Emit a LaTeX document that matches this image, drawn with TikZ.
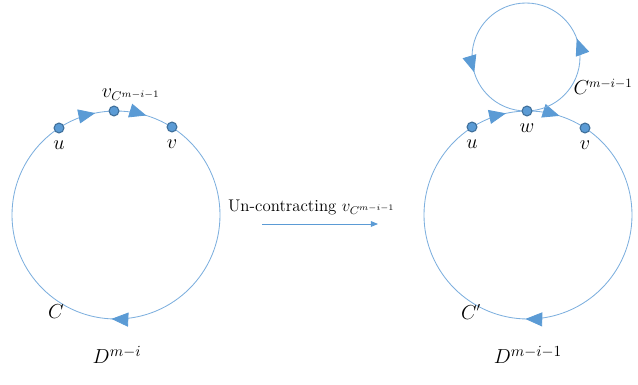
\documentclass[tikz,border=0pt]{standalone}
\usepackage{amsmath}
\usepackage{tikz}
\usetikzlibrary{positioning,arrows.meta,decorations.markings}
\definecolor{cycblue}{RGB}{91,155,213}
\definecolor{dotedge}{RGB}{65,113,156}
\definecolor{linblue}{RGB}{125,175,222}

\begin{document}
\begin{tikzpicture}[x=0.025cm, y=-0.025cm,
    font=\fontsize{13.5}{16}\selectfont,
    cyc/.style={draw=linblue, line width=0.6pt},
    dot/.style={circle, fill=cycblue, draw=dotedge, line width=0.8pt,
                inner sep=0pt, minimum size=7pt},
    tip/.style={postaction={decorate, decoration={markings,
                mark=at position #1 with {\arrow[cycblue]{Triangle[length=12pt,width=10pt]}}}}},
    flow/.style={-{Triangle[length=5pt,width=4pt]}, draw=cycblue, line width=0.6pt}]
    \useasboundingbox (0,0) rectangle (638,385);

    \draw[cyc, tip=0.718, tip=0.797, tip=0.257] (116,215) circle[radius=104];
    \node[dot] (u1) at (59,128)  {};
    \node[dot] (vc) at (114,111) {};
    \node[dot] (v1) at (172,127) {};
    \node[below=1.5pt of u1] {$u$};
    \node[below=1.5pt of v1] {$v$};
    \node at (131,95) {$v_{C^{m-i-1}}$};
    \node at (56,312) {$C$};
    \node[font=\fontsize{15.5}{18}\selectfont] at (117,355) {$D^{m-i}$};

    \coordinate (s) at (262,224);
    \coordinate (t) at (378,224);
    \draw[flow] (s) -- node[above=3pt, xshift=-6pt, font=\fontsize{12}{14}\selectfont]
      {Un-contracting $v_{C^{m-i-1}}$} (t);

    \draw[cyc, tip=0.716, tip=0.799, tip=0.254] (528,215) circle[radius=104];
    \draw[cyc, tip=0.056, tip=0.546] (580,57) arc[start angle=0, end angle=-360, radius=54];
    \node[dot] (u2) at (472,127) {};
    \node[dot] (w)  at (527,111) {};
    \node[dot] (v2) at (585,128) {};
    \node[below=1.5pt of u2] {$u$};
    \node[below=1.5pt of w]  {$w$};
    \node[below=1.5pt of v2] {$v$};
    \node at (603,87) {$C^{m-i-1}$};
    \node at (471,312) {$C'$};
    \node[font=\fontsize{15.5}{18}\selectfont] at (528,355) {$D^{m-i-1}$};
  \end{tikzpicture}
\end{document}
